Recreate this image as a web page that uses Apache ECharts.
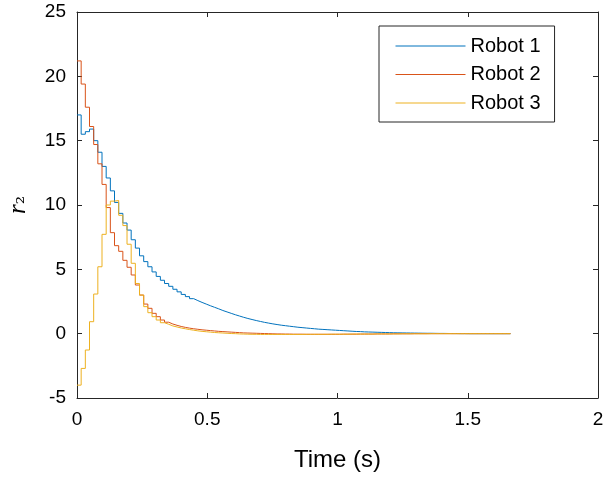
<!DOCTYPE html>
<html>
<head>
<meta charset="utf-8">
<title>r2</title>
<script src="https://cdn.jsdelivr.net/npm/echarts@6/dist/echarts.min.js"></script>
<style>
    html, body { margin: 0; padding: 0; background: #fff; }
    #main { width: 616px; height: 478px; }
</style>
</head>
<body>
<div id="main"></div>
<script>
    // sample period of the stairs (s)
    const DT = 0.016

    const legendNames = ['Robot 1', 'Robot 2', 'Robot 3']
    const xTicks = [0, 0.5, 1, 1.5, 2]
    const yTicks = [-5, 0, 5, 10, 15, 20, 25]

    const robot1 = [
        17.0, 15.5, 15.7, 15.9, 15.0, 14.1, 13.0, 12.1, 11.1, 10.2,
        9.35, 8.6, 8.05, 7.3, 6.65, 6.05, 5.6, 5.2, 4.8, 4.45,
        4.15, 3.9, 3.68, 3.45, 3.25, 3.05, 2.88, 2.72, 2.57, 2.43,
        2.3, 2.17, 2.05, 1.93, 1.8, 1.69, 1.58, 1.47, 1.37, 1.27,
        1.18, 1.1, 1.02, 0.95, 0.88, 0.82, 0.76, 0.71, 0.66, 0.62,
        0.58, 0.54, 0.5, 0.47, 0.44, 0.41, 0.38, 0.35, 0.33, 0.31,
        0.29, 0.27, 0.25, 0.23, 0.21, 0.19, 0.17, 0.16, 0.14, 0.13,
        0.12, 0.11, 0.10, 0.09, 0.08, 0.07, 0.065, 0.06, 0.055, 0.05,
        0.045, 0.04, 0.035, 0.03, 0.03, 0.025, 0.02, 0.02, 0.015, 0.01,
        0.01, 0.005, 0.005, 0, 0, 0, 0, 0, 0, 0,
        0, 0, 0, 0, 0
    ]
    const robot2 = [
        21.2, 19.4, 17.6, 16.1, 14.7, 13.2, 11.6, 9.8, 7.85, 6.84,
        6.4, 5.7, 5.16, 4.56, 3.78, 3.0, 2.3, 1.97, 1.58, 1.32,
        1.06, 0.89, 0.75, 0.65, 0.56, 0.49, 0.43, 0.38, 0.34, 0.3,
        0.27, 0.24, 0.21, 0.18, 0.16, 0.14, 0.12, 0.1, 0.08, 0.06,
        0.05, 0.04, 0.03, 0.02, 0.01, 0, -0.01, -0.02, -0.02, -0.03,
        -0.03, -0.04, -0.04, -0.04, -0.05, -0.05, -0.05, -0.05, -0.05, -0.05,
        -0.05, -0.05, -0.05, -0.04, -0.04, -0.04, -0.04, -0.03, -0.03, -0.03,
        -0.03, -0.02, -0.02, -0.02, -0.02, -0.01, -0.01, -0.01, -0.01, -0.01,
        0, 0, 0, 0, 0, 0, 0, 0, 0, 0,
        0, 0, 0, 0, 0, 0, 0, 0, 0, 0,
        0, 0, 0, 0, 0
    ]
    const robot3 = [
        -4.0, -2.7, -1.27, 0.93, 3.08, 5.2, 7.72, 10.0, 10.3, 10.35,
        9.2, 8.4, 6.95, 5.47, 3.9, 3.0, 2.1, 1.63, 1.32, 1.06,
        0.85, 0.73, 0.6, 0.52, 0.44, 0.38, 0.32, 0.27, 0.22, 0.18,
        0.15, 0.12, 0.09, 0.07, 0.05, 0.03, 0.01, 0, -0.02, -0.03,
        -0.04, -0.05, -0.05, -0.06, -0.06, -0.06, -0.06, -0.06, -0.06, -0.06,
        -0.06, -0.06, -0.06, -0.06, -0.05, -0.05, -0.05, -0.05, -0.05, -0.05,
        -0.04, -0.04, -0.04, -0.04, -0.04, -0.03, -0.03, -0.03, -0.03, -0.03,
        -0.03, -0.02, -0.02, -0.02, -0.02, -0.02, -0.02, -0.01, -0.01, -0.01,
        -0.01, -0.01, -0.01, -0.01, 0, 0, 0, 0, 0, 0,
        0, 0, 0, 0, 0, 0, 0, 0, 0, 0,
        0, 0, 0, 0, 0
    ]

    const colors = ['#0072BD', '#D95319', '#EDB120']
    const axisColor = '#262626'
    const font = 'Liberation Sans, Arial, sans-serif'

    function stairs(values) {
        return values.map((v, i) => [+(i * DT).toFixed(3), v])
    }

    function frameAxis(position, range, showLabels) {
        return {
            type: 'value',
            position: position,
            min: range[0],
            max: range[range.length - 1],
            interval: range[1] - range[0],
            axisLine: { show: true, onZero: false, lineStyle: { color: axisColor, width: 1 } },
            axisTick: { show: true, inside: true, length: 5, lineStyle: { color: axisColor } },
            axisLabel: {
                show: showLabels,
                color: '#000',
                fontFamily: font,
                fontSize: 19,
                margin: position === 'bottom' ? 12 : 11
            },
            splitLine: { show: false }
        }
    }

    let chart = echarts.init(document.getElementById('main'), null, { renderer: 'canvas' })

    let xBottom = frameAxis('bottom', xTicks, true)
    xBottom.name = 'Time (s)'
    xBottom.nameLocation = 'middle'
    xBottom.nameGap = 50
    xBottom.nameTextStyle = { color: '#000', fontFamily: font, fontSize: 24 }

    let yLeft = frameAxis('left', yTicks, true)
    yLeft.name = '{i|r}{s|₂}'
    yLeft.nameLocation = 'middle'
    yLeft.nameRotate = 90
    yLeft.nameGap = 46
    yLeft.nameTextStyle = {
        rich: {
            i: { fontFamily: 'Liberation Serif, serif', fontStyle: 'italic', fontSize: 25, color: '#000' },
            s: { fontFamily: 'DejaVu Serif, serif', fontSize: 21, color: '#000' }
        }
    }

    chart.setOption({
        animation: false,
        grid: { left: 77, right: 18, top: 12, bottom: 80, outerBoundsMode: 'none', containLabel: false },
        legend: {
            orient: 'vertical',
            left: 379,
            top: 26,
            padding: [10, 14, 9, 16],
            itemWidth: 70,
            itemHeight: 20,
            itemGap: 8.5,
            backgroundColor: '#fff',
            borderColor: axisColor,
            borderWidth: 1,
            borderRadius: 0,
            itemStyle: { opacity: 0, borderWidth: 0 },
            lineStyle: { width: 1 },
            textStyle: { color: '#000', fontFamily: font, fontSize: 20 },
            data: legendNames
        },
        xAxis: [xBottom, frameAxis('top', xTicks, false)],
        yAxis: [yLeft, frameAxis('right', yTicks, false)],
        series: [robot1, robot2, robot3].map((vals, k) => ({
            name: legendNames[k],
            type: 'line',
            step: 'end',
            xAxisIndex: 0,
            yAxisIndex: 0,
            showSymbol: false,
            symbol: 'none',
            color: colors[k],
            lineStyle: { width: 1, color: colors[k] },
            data: stairs(vals)
        }))
    })
</script>
</body>
</html>
